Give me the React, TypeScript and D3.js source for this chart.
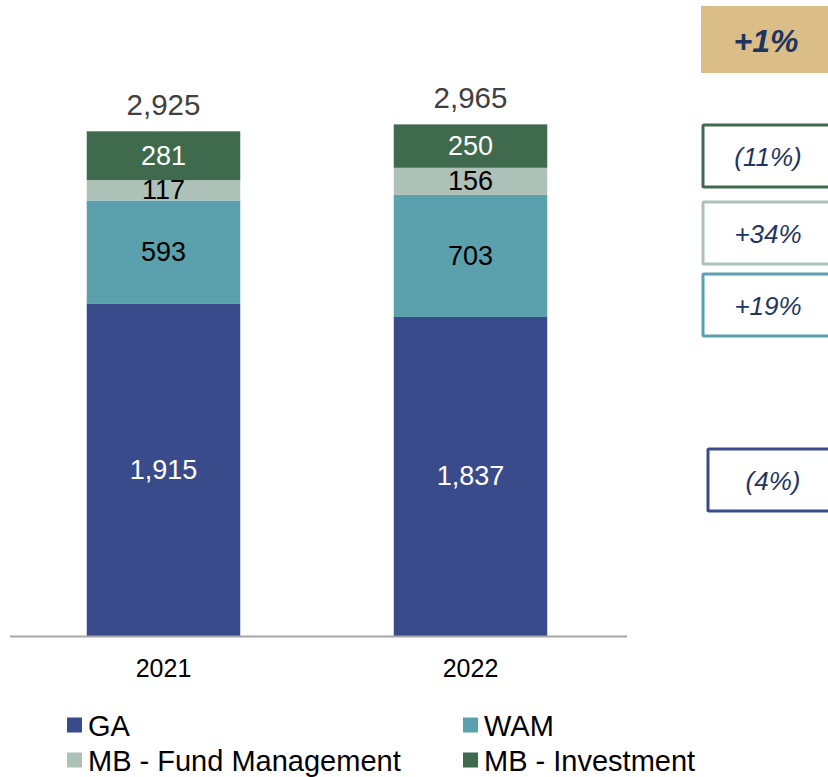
import React from "react";
import * as d3 from "d3";

const years = ["2021", "2022"];
const ga = [1915, 1837];
const wam = [593, 703];
const mbFund = [117, 156];
const mbInv = [281, 250];
const totals = ["2,925", "2,965"];

const seriesNames = ["GA", "WAM", "MB - Fund Management", "MB - Investment"];
const seriesColors = ["#3A4B8C", "#5BA1AD", "#ADC1B9", "#3F6A4D"];
const labelColors = ["#FFFFFF", "#000000", "#000000", "#FFFFFF"];

const changeLabels = ["+1%", "(11%)", "+34%", "+19%", "(4%)"];
const changeBorders = ["#DBBD87", "#3F6A4D", "#ADC1B9", "#5BA1AD", "#3A4B8C"];
const changeTops = [6, 125, 202, 274, 449];

const W = 828;
const H = 777;
const FONT = "'Liberation Sans', Arial, sans-serif";

export default function App() {
  const series = [ga, wam, mbFund, mbInv];
  const rows = years.map((y, i) => ({
    year: y,
    GA: ga[i],
    WAM: wam[i],
    "MB - Fund Management": mbFund[i],
    "MB - Investment": mbInv[i],
  }));
  const stack = d3.stack<any>().keys(seriesNames)(rows);

  const x = d3.scaleBand<string>().domain(years).range([10, 624]).paddingInner(0.5).paddingOuter(0.25);
  const y = d3.scaleLinear().domain([0, 3000]).range([636, 115]);

  const fmt = d3.format(",");

  return (
    <svg width={W} height={H} style={{ position: "absolute", left: 0, top: 0, background: "#fff" }} fontFamily={FONT}>
      {stack.map((layer, si) => (
        <g key={si}>
          {layer.map((d, i) => {
            const x0 = x(years[i])!;
            const y0 = y(d[1]);
            const y1 = y(d[0]);
            return <rect key={i} x={x0} y={y0} width={x.bandwidth()} height={y1 - y0} fill={seriesColors[si]} />;
          })}
        </g>
      ))}
      {stack.map((layer, si) => (
        <g key={"l" + si}>
          {layer.map((d, i) => (
            <text
              key={i}
              x={x(years[i])! + x.bandwidth() / 2}
              y={(y(d[0]) + y(d[1])) / 2}
              textAnchor="middle"
              dominantBaseline="central"
              fontSize={27}
              fill={labelColors[si]}
            >
              {fmt(series[si][i])}
            </text>
          ))}
        </g>
      ))}
      {years.map((yr, i) => {
        const top = y(ga[i] + wam[i] + mbFund[i] + mbInv[i]);
        return (
          <text key={yr} x={x(yr)! + x.bandwidth() / 2} y={top - 27} textAnchor="middle" dominantBaseline="central" fontSize={29.5} fill="#404040">
            {totals[i]}
          </text>
        );
      })}
      <line x1={10} x2={627} y1={636.5} y2={636.5} stroke="#A6A6A6" strokeWidth={2} />
      {years.map((yr) => (
        <text key={yr} x={x(yr)! + x.bandwidth() / 2} y={668} textAnchor="middle" dominantBaseline="central" fontSize={25} fill="#000">
          {yr}
        </text>
      ))}

      {changeLabels.map((lab, i) => {
        const filled = i === 0;
        const bx = i === 0 ? 701 : i === 4 ? 708 : 703;
        const bw = 140;
        const bh = i === 0 ? 67 : 62;
        return (
          <g key={lab}>
            {filled ? (
              <rect x={bx} y={changeTops[i]} width={bw} height={bh} fill={changeBorders[i]} />
            ) : (
              <rect x={bx} y={changeTops[i]} width={bw} height={bh} fill="#fff" stroke={changeBorders[i]} strokeWidth={3} rx={1} />
            )}
            <text
              x={bx + 65}
              y={changeTops[i] + bh / 2 + 1}
              textAnchor="middle"
              dominantBaseline="central"
              fontSize={filled ? 32 : 26}
              fontStyle="italic"
              fontWeight={filled ? "bold" : "normal"}
              fill="#1F3461"
            >
              {lab}
            </text>
          </g>
        );
      })}

      {seriesNames.map((name, i) => {
        const col = i % 2;
        const row = Math.floor(i / 2);
        const lx = col === 0 ? 67 : 463;
        const ly = row === 0 ? 725 : 760;
        return (
          <g key={name}>
            <rect x={lx} y={ly - 7.5} width={15} height={15} fill={seriesColors[i]} />
            <text x={lx + 21} y={ly + 1} dominantBaseline="central" fontSize={29} fill="#000">
              {name}
            </text>
          </g>
        );
      })}
    </svg>
  );
}
